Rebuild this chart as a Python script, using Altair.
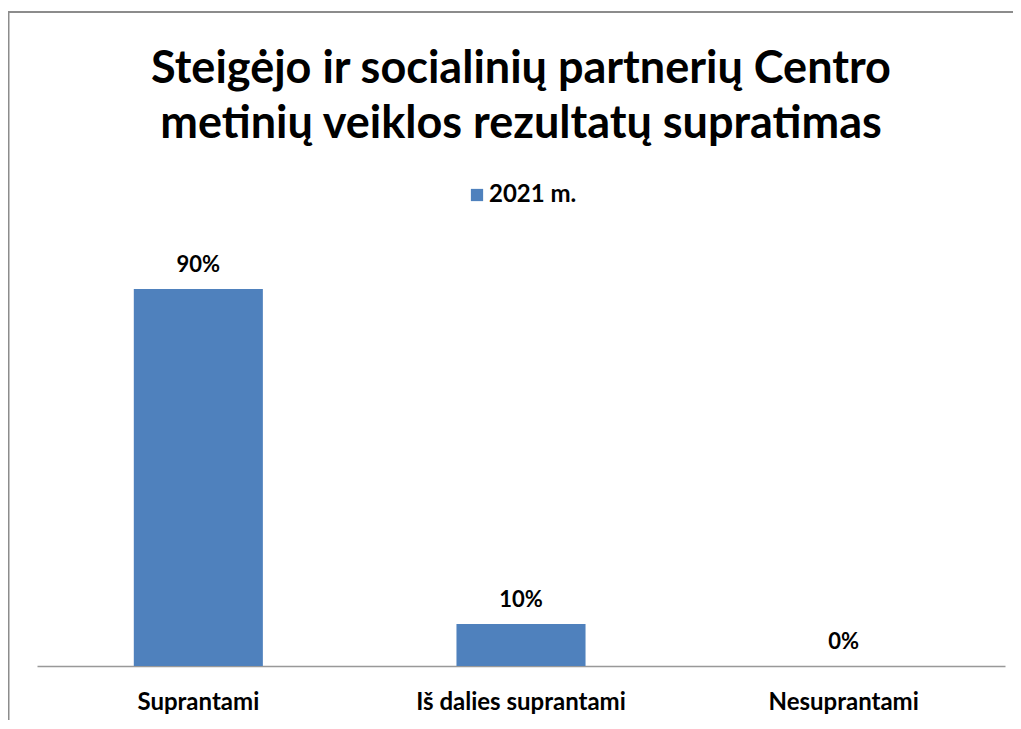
import altair as alt
import pandas as pd

categories = ["Suprantami", "Iš dalies suprantami", "Nesuprantami"]
values = [90, 10, 0]
series = "2021 m."
title_lines = ["Steigėjo ir socialinių partnerių Centro", "metinių veiklos rezultatų supratimas"]

df = pd.DataFrame({"cat": categories, "val": values, "series": [series] * 3,
                   "label": [f"{v}%" for v in values]})

FONT = "Lato"
W, H = 968, 419

base = alt.Chart(df)

bars = base.mark_bar(color="#4F81BD").encode(
    x=alt.X("cat:N", sort=categories, title=None,
            scale=alt.Scale(paddingInner=0.6, paddingOuter=0.3),
            axis=alt.Axis(labelAngle=0, labelFont=FONT, labelFontSize=24, labelFontWeight="bold",
                          labelColor="#000", labelPadding=24, labelLimit=0, ticks=False,
                          domainColor="#999999", domainWidth=1.5, grid=False)),
    y=alt.Y("val:Q", scale=alt.Scale(domain=[0, 100]), axis=None),
    color=alt.Color("series:N", scale=alt.Scale(range=["#4F81BD"]),
                    legend=alt.Legend(title=None, orient="none", legendX=428, legendY=-64,
                                      padding=0, labelOffset=0,
                                      symbolType="square", symbolSize=150, labelFont=FONT,
                                      labelFontSize=24, labelFontWeight="bold", labelColor="#000",
                                      symbolStrokeWidth=0)),
)

labels = base.mark_text(font=FONT, fontSize=22, fontWeight="bold", color="#000",
                        baseline="middle", dy=-24).encode(
    x=alt.X("cat:N", sort=categories),
    y="val:Q",
    text="label:N",
)

border_left = alt.Chart(pd.DataFrame({"a": [0]})).mark_rule(color="#8c8c8c", strokeWidth=2).encode(
    x=alt.value(-28.5), y=alt.value(-235), y2=alt.value(500))
border_top = alt.Chart(pd.DataFrame({"a": [0]})).mark_rule(color="#8c8c8c", strokeWidth=2).encode(
    x=alt.value(-29), x2=alt.value(1000), y=alt.value(-235))

chart = alt.layer(border_left, border_top, bars, labels).properties(
    width=W, height=H,
    title=alt.TitleParams(title_lines, font=FONT, fontSize=45, fontWeight="bold", color="#000",
                          anchor="middle", frame="group", lineHeight=55, offset=0,
                          baseline="bottom", dy=181),
    autosize=alt.AutoSizeParams(type="none"),
    padding={"left": 29, "top": 239, "right": 8, "bottom": 54},
).configure_view(stroke=None)

chart.save("out.html", embed_options={"renderer": "svg", "actions": False})
